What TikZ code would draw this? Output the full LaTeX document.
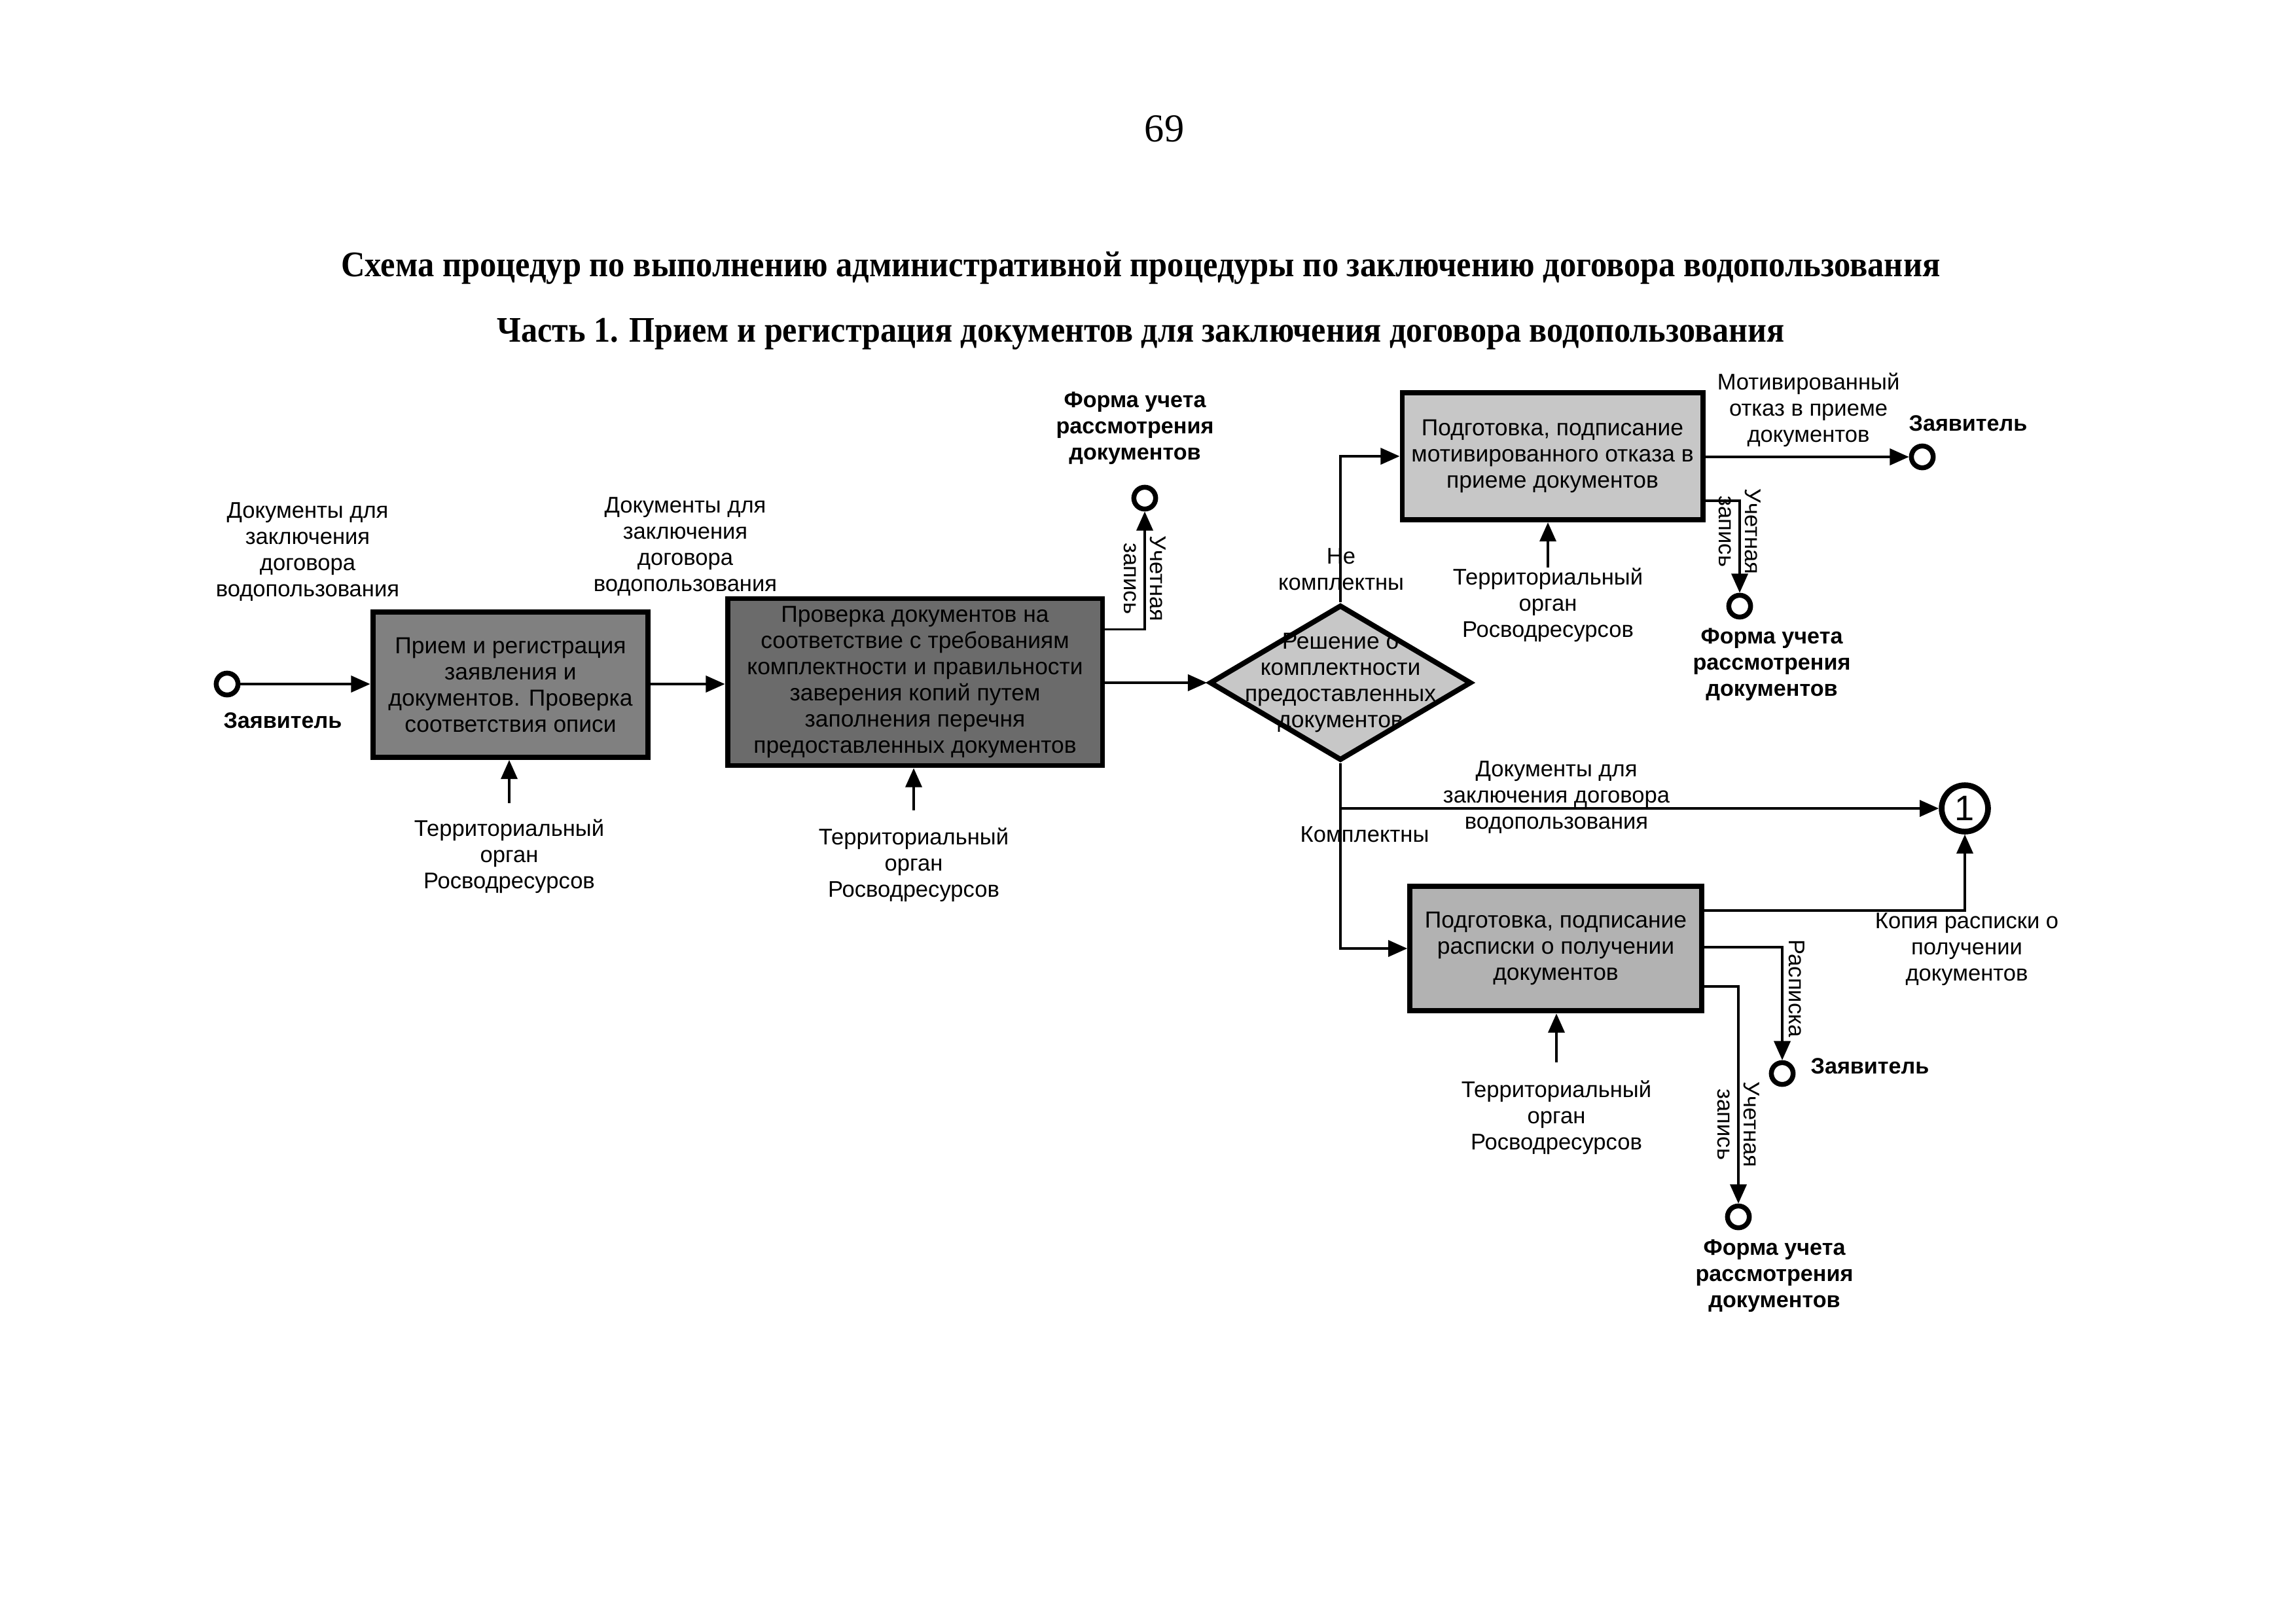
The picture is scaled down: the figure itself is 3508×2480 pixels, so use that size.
\documentclass[tikz,border=0pt]{standalone}
\usepackage{fontspec}
\setmainfont{Liberation Serif}
\newfontfamily\lab{Liberation Sans}
\usetikzlibrary{arrows.meta,calc,shapes.geometric}
\tikzset{
  proc/.style={draw=black, line width=1.9pt, align=center, inner sep=0pt,
    font=\lab\fontsize{8.5}{9.6}\selectfont},
  lbl/.style={align=center, inner sep=0pt, font=\lab\fontsize{8.3}{9.6}\selectfont},
  blbl/.style={align=center, inner sep=0pt, font=\lab\bfseries\fontsize{8.2}{9.6}\selectfont},
  evt/.style={circle, draw=black, line width=1.8pt, minimum size=8pt, inner sep=0pt, fill=white},
  flow/.style={line width=0.9pt, -{Triangle[length=7pt,width=6pt]}},
  rlbl/.style={lbl, rotate=-90},
  ttl/.style={inner sep=0pt, font=\bfseries\fontsize{13.2}{15}\selectfont},
}
\begin{document}
\begin{tikzpicture}[x=0.24pt,y=-0.24pt]
\useasboundingbox (0,0) rectangle (3508,2480);
\fill[white] (0,0) rectangle (3508,2480);

% header
\node[inner sep=0pt, font=\fontsize{14.5}{16}\selectfont] (pg) at (1779,197) {69};
\node[ttl] (t1) at (1743,409) {\scalebox{0.918}[1]{Схема процедур по выполнению административной процедуры по заключению договора водопользования}};
\node[ttl] (t2) at (1743,510) {\scalebox{0.912}[1]{Часть 1. Прием и регистрация документов для заключения договора водопользования}};

% process boxes
\node[proc, fill=black!50, minimum width=101pt, minimum height=53.3pt] (b1) at (780,1046)
  {Прием и регистрация\\заявления и\\документов. Проверка\\соответствия описи};
\node[proc, fill=black!58, minimum width=137.5pt, minimum height=61.2pt] (b2) at (1398,1042)
  {Проверка документов на\\соответствие с требованиям\\комплектности и правильности\\заверения копий путем\\заполнения перечня\\предоставленных документов};
\node[proc, fill=black!22, minimum width=110.2pt, minimum height=46.6pt] (b3) at (2372,697)
  {Подготовка, подписание\\мотивированного отказа в\\приеме документов};
\node[proc, fill=black!30, minimum width=107pt, minimum height=45.8pt] (b4) at (2377,1449)
  {Подготовка, подписание\\расписки о получении\\документов};

% decision
\node[diamond, draw=black, line width=1.9pt, fill=black!22, minimum width=96pt, minimum height=57pt, inner sep=0pt] (d) at (2048,1043) {};
\node[lbl, font=\lab\fontsize{8.5}{9.6}\selectfont] (dt) at (d.center) {Решение о\\комплектности\\предоставленных\\документов};

% events
\node[evt] (z1) at (347,1045) {};
\node[evt] (f1) at (1749,761) {};
\node[evt] (zr1) at (2937,698) {};
\node[evt] (f2) at (2658,926) {};
\node[evt] (zr2) at (2723,1640) {};
\node[evt] (f3) at (2656,1859) {};
\node[circle, draw=black, line width=2.1pt, fill=white, minimum size=17pt, inner sep=0pt,
  font=\lab\fontsize{13}{13}\selectfont] (c1) at (3002,1235) {1};

% labels
\node[blbl] (lz1) at (432,1101) {Заявитель};
\node[lbl] (ld1) at (470,843) {Документы для\\заключения\\договора\\водопользования};
\node[lbl] (ld2) at (1047,835) {Документы для\\заключения\\договора\\водопользования};
\node[lbl] (lt1) at (778,1308) {Территориальный\\орган\\Росводресурсов};
\node[lbl] (lt2) at (1396,1321) {Территориальный\\орган\\Росводресурсов};
\node[blbl] (lf1) at (1734,654) {Форма учета\\рассмотрения\\документов};
\node[lbl] (lnk) at (2049,870) {Не\\комплектны};
\node[lbl] (lt3) at (2365,924) {Территориальный\\орган\\Росводресурсов};
\node[lbl] (lmo) at (2763,626) {Мотивированный\\отказ в приеме\\документов};
\node[blbl] (lz2) at (3007,647) {Заявитель};
\node[blbl] (lf2) at (2707,1015) {Форма учета\\рассмотрения\\документов};
\node[lbl] (ld3) at (2378,1218) {Документы для\\заключения договора\\водопользования};
\node[lbl] (lk) at (2085,1275) {Комплектны};
\node[lbl] (lkp) at (3005,1450) {Копия расписки о\\получении\\документов};
\node[blbl] (lz3) at (2857,1629) {Заявитель};
\node[lbl] (lt4) at (2378,1707) {Территориальный\\орган\\Росводресурсов};
\node[blbl] (lf3) at (2711,1949) {Форма учета\\рассмотрения\\документов};
\node[rlbl] (r1) at (1749,884) {Учетная\\запись};
\node[rlbl] (r2) at (2658,812) {Учетная\\запись};
\node[rlbl] (r3) at (2745,1510) {Расписка};
\node[rlbl] (r4) at (2656,1718) {Учетная\\запись};

% connectors
\draw[flow] (z1.east) -- (b1.west |- z1.east);
\draw[flow] (b1.east |- z1.east) -- (b2.west |- z1.east);
\draw[flow] (b2.east |- d.west) -- (d.west);
\draw[flow] ($(b2.north east)+(0,51)$) -| (f1.south);
\draw[flow] (d.north) |- (b3.west);
\draw[flow] (b3.east |- zr1.west) -- (zr1.west);
\draw[flow] ($(b3.south east)+(0,-33)$) -| (f2.north);
\draw[flow] (d.south) |- (b4.west);
\draw[flow] (d.south |- c1.west) -- (c1.west);
\draw[flow] ($(b4.north east)+(0,41)$) -| (c1.south);
\draw[flow] ($(b4.north east)+(0,97)$) -| (zr2.north);
\draw[flow] ($(b4.north east)+(0,157)$) -| (f3.north);
\draw[flow] ($(lt1.north)+(0,-24)$) -- (lt1.north |- b1.south);
\draw[flow] ($(lt2.north)+(0,-26)$) -- (lt2.north |- b2.south);
\draw[flow] ($(lt3.north)+(0,0)$) -- (lt3.north |- b3.south);
\draw[flow] ($(lt4.north)+(0,-27)$) -- (lt4.north |- b4.south);
\end{tikzpicture}
\end{document}
